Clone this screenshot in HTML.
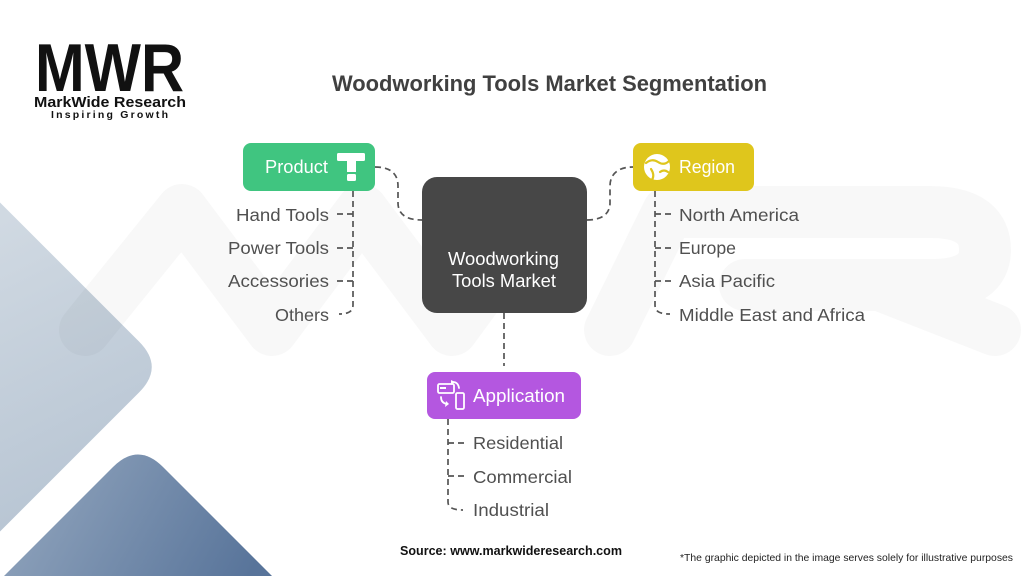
<!DOCTYPE html>
<html><head><meta charset="utf-8"><style>
html,body{margin:0;padding:0;background:#fff;}
body{width:1024px;height:576px;overflow:hidden;position:relative;}
svg{position:absolute;left:0;top:0;display:block;}
text{font-family:"Liberation Sans",Arial,sans-serif;}
</style></head><body>
<svg width="1024" height="576" viewBox="0 0 1024 576" xmlns="http://www.w3.org/2000/svg">
<defs>
<linearGradient id="gl" gradientUnits="userSpaceOnUse" x1="0" y1="220" x2="150" y2="520">
<stop offset="0" stop-color="#d0d9e2"/><stop offset="1" stop-color="#b4c2d1"/>
</linearGradient>
<linearGradient id="gd" gradientUnits="userSpaceOnUse" x1="40" y1="460" x2="250" y2="576">
<stop offset="0" stop-color="#8ea2bb"/><stop offset="1" stop-color="#58749a"/>
</linearGradient>
</defs>
<rect width="1024" height="576" fill="#fff"/>
<!-- background diamonds -->
<path d="M0,202.5 L139,341.5 Q164.5,367 139,392.5 L0,531.5 Z" fill="url(#gl)"/>
<path d="M4,576 L113,467 Q138,442 163,467 L272,576 Z" fill="url(#gd)"/>
<!-- watermark -->
<g fill="none" stroke="rgba(0,0,0,0.028)" stroke-width="52" stroke-linejoin="round" stroke-linecap="round">
<polyline points="85,330 182,210 272,330 362,210 452,330 540,210"/>
<path d="M610,330 L668,212 L930,212 Q985,212 985,250 Q985,285 930,285 L745,285 M880,285 L995,330"/>
</g>
<!-- logo -->
<text x="35" y="91" font-size="68" font-weight="bold" fill="#111" textLength="149" lengthAdjust="spacingAndGlyphs">MWR</text>
<text x="34" y="107" font-size="14.5" font-weight="bold" fill="#111" textLength="152" lengthAdjust="spacingAndGlyphs">MarkWide Research</text>
<text x="51" y="118" font-size="10.5" font-weight="bold" fill="#111" textLength="117" lengthAdjust="spacing">Inspiring Growth</text>
<!-- title -->
<text x="332" y="91" font-size="22" font-weight="bold" fill="#404040" textLength="435" lengthAdjust="spacingAndGlyphs">Woodworking Tools Market Segmentation</text>

<!-- connectors -->
<g fill="none" stroke="#555" stroke-width="1.7" stroke-dasharray="6 4">
<path d="M375,167 C392,167 398,175 398,186 L398,203 C398,214 406,220 422,220"/>
<path d="M587,220 C603,220 610,213 610,203 L610,186 C610,175 617,167 633,167"/>
<path d="M504,313 L504,366"/>
<path d="M353,191 L353,305 C353,311 349,314 339,314"/>
<path d="M337,214 L353,214 M337,248 L353,248 M337,281 L353,281"/>
<path d="M655,191 L655,305 C655,311 659,314 670,314"/>
<path d="M655,214 L672,214 M655,248 L672,248 M655,281 L672,281"/>
<path d="M448,419 L448,502 C448,507 452,510 463,510"/>
<path d="M448,443 L465,443 M448,476 L465,476"/>
</g>

<!-- center box -->
<rect x="422" y="177" width="165" height="136" rx="15" fill="#474747"/>
<text x="448" y="265" font-size="18" fill="#fff" textLength="111" lengthAdjust="spacingAndGlyphs">Woodworking</text>
<text x="452" y="287" font-size="18" fill="#fff" textLength="104" lengthAdjust="spacingAndGlyphs">Tools Market</text>

<!-- product -->
<rect x="243" y="143" width="132" height="48" rx="8" fill="#40c580"/>
<text x="265" y="173" font-size="18" fill="#fff" textLength="63" lengthAdjust="spacingAndGlyphs">Product</text>
<rect x="337" y="153" width="28" height="8" rx="1.5" fill="#fff"/>
<rect x="347" y="160" width="9" height="12" fill="#fff"/>
<rect x="347" y="174" width="9" height="7" rx="1.5" fill="#fff"/>

<!-- region -->
<rect x="633" y="143" width="121" height="48" rx="8" fill="#dfc61c"/>
<circle cx="657" cy="167" r="13" fill="#fff"/>
<g fill="none" stroke="#dfc61c" stroke-width="2.2" stroke-linecap="round">
<path d="M646,163 Q652,158 658,162 Q664,166 669,161"/>
<path d="M660,172 Q664,169 668,172"/>
<path d="M651,169 Q655,175 652,180"/>
</g>
<text x="679" y="173" font-size="18" fill="#fff" textLength="56" lengthAdjust="spacingAndGlyphs">Region</text>

<!-- application -->
<rect x="427" y="372" width="154" height="47" rx="8" fill="#b457e0"/>
<g fill="none" stroke="#fff" stroke-width="1.8" stroke-linecap="round" stroke-linejoin="round">
<rect x="438" y="384" width="16" height="9" rx="1.5"/>
<rect x="456" y="393" width="8" height="16" rx="1.5"/>
<path d="M453,382 Q458,382 459,388"/>
<path d="M441,397 Q441,403 447,404"/>
</g>
<rect x="440" y="387" width="6" height="2" fill="#fff"/>
<path d="M451,380 L455,382 L451,385 Z" fill="#fff"/>
<path d="M446,401 L449,404 L445,407 Z" fill="#fff"/>
<text x="473" y="402" font-size="18" fill="#fff" textLength="92" lengthAdjust="spacingAndGlyphs">Application</text>

<!-- product children -->
<g font-size="17.5" fill="#505050" text-anchor="end">
<text x="329" y="221" textLength="93" lengthAdjust="spacingAndGlyphs">Hand Tools</text>
<text x="329" y="254" textLength="101" lengthAdjust="spacingAndGlyphs">Power Tools</text>
<text x="329" y="287" textLength="101" lengthAdjust="spacingAndGlyphs">Accessories</text>
<text x="329" y="321" textLength="54" lengthAdjust="spacingAndGlyphs">Others</text>
</g>
<!-- region children -->
<g font-size="17.5" fill="#505050">
<text x="679" y="221" textLength="120" lengthAdjust="spacingAndGlyphs">North America</text>
<text x="679" y="254" textLength="57" lengthAdjust="spacingAndGlyphs">Europe</text>
<text x="679" y="287" textLength="96" lengthAdjust="spacingAndGlyphs">Asia Pacific</text>
<text x="679" y="321" textLength="186" lengthAdjust="spacingAndGlyphs">Middle East and Africa</text>
</g>
<!-- application children -->
<g font-size="17.5" fill="#505050">
<text x="473" y="449" textLength="90" lengthAdjust="spacingAndGlyphs">Residential</text>
<text x="473" y="483" textLength="99" lengthAdjust="spacingAndGlyphs">Commercial</text>
<text x="473" y="516" textLength="76" lengthAdjust="spacingAndGlyphs">Industrial</text>
</g>

<!-- footer -->
<text x="400" y="555" font-size="13" font-weight="bold" fill="#111" textLength="222" lengthAdjust="spacingAndGlyphs">Source: www.markwideresearch.com</text>
<text x="680" y="561" font-size="10.5" fill="#222" textLength="333" lengthAdjust="spacingAndGlyphs">*The graphic depicted in the image serves  solely for illustrative purposes</text>
</svg>
</body></html>
